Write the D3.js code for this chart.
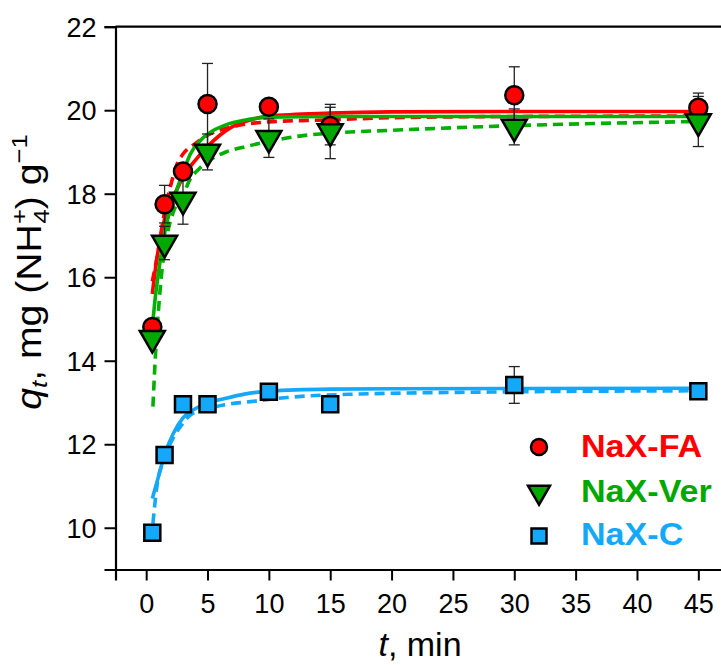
<!DOCTYPE html>
<html>
<head>
<meta charset="utf-8">
<script src="https://cdn.jsdelivr.net/npm/d3@7"></script>
<style>
  body { margin: 0; background: #fff; }
  text { font-family: "Liberation Sans", Arial, sans-serif; }
</style>
</head>
<body>
<div id="chart"></div>
<script>
var W = 721, H = 665;

// measured times (min)
var times = [0.5, 1.5, 3, 5, 10, 15, 30, 45];
// q_t values
var qFA  = [14.81, 17.75, 18.53, 20.15, 20.08, 19.62, 20.36, 20.06];
var qVer = [14.54, 16.82, 17.85, 19.0, 19.33, 19.49, 19.6, 19.73];
var qC   = [9.88, 11.74, 12.96, 12.96, 13.26, 12.96, 13.42, 13.27];
// error bars (half height, 0 = none visible)
var errFA  = [0, 0.45, 0, 0.97, 0, 0.45, 0.68, 0.35];
var errVer = [0, 0.4, 0.58, 0.43, 0.46, 0.65, 0.43, 0.6];
var errC   = [0, 0, 0, 0, 0, 0, 0.44, 0];

// fitted curves, [t, q]
var fitFAsolid = [[0.5,15.6],[0.8,16.3],[1.2,17.0],[1.6,17.5],[2.0,17.85],[2.5,18.1],[3.0,18.4],[4.0,18.8],[5.0,19.13],[6.0,19.4],[7.0,19.6],[8.0,19.72],[10,19.86],[15,19.93],[20,19.96],[30,19.97],[45,19.97]];
var fitFAdash  = [[0.5,15.9],[0.9,16.5],[1.4,17.4],[2.0,18.2],[2.5,18.7],[3.0,18.95],[4.0,19.2],[5,19.4],[7,19.6],[10,19.72],[15,19.77],[20,19.82],[30,19.85],[45,19.86]];
var fitVerSolid = [[0.5,14.8],[0.7,15.4],[1.0,16.1],[1.3,16.7],[1.6,17.2],[2.0,17.65],[2.5,18.1],[3.0,18.5],[3.6,18.95],[4.5,19.3],[5.5,19.52],[6.5,19.65],[8,19.76],[10,19.83],[15,19.85],[45,19.85]];
var fitVerDash  = [[0.55,12.9],[0.75,14.1],[1.0,15.2],[1.3,16.2],[1.7,17.0],[2.2,17.55],[3.0,17.95],[3.5,18.3],[4.4,18.62],[5.5,18.86],[6.5,19.0],[8,19.12],[10,19.25],[12.5,19.38],[15,19.45],[20,19.52],[30,19.63],[45,19.73]];
var fitCsolid = [[0.5,10.7],[1.0,11.22],[1.5,11.75],[2.2,12.25],[3,12.63],[4,12.85],[5,12.98],[6.5,13.1],[8,13.2],[10,13.27],[15,13.32],[20,13.33],[45,13.34]];
var fitCdash  = [[0.55,10.1],[0.9,11.05],[1.4,11.6],[2.2,12.15],[3.0,12.5],[3.6,12.7],[5,12.85],[6.3,12.94],[8.5,13.02],[11.5,13.12],[17,13.2],[28,13.25],[45,13.28]];

var xMajor = [0, 5, 10, 15, 20, 25, 30, 35, 40, 45];
var xMinor = [-2.5, 2.5, 7.5, 12.5, 17.5, 22.5, 27.5, 32.5, 37.5, 42.5, 47.5];
var yMajor = [10, 12, 14, 16, 18, 20, 22];
var yMinor = [9, 11, 13, 15, 17, 19, 21];

var cRed = "#ff0000", cGreen = "#00a800", cGreenLine = "#00b000", cBlue = "#14a8fa";

var x = d3.scaleLinear().domain([-2.5, 47.5]).range([115.5, 729]);
var y = d3.scaleLinear().domain([9, 22]).range([569.5, 26.7]);

var svg = d3.select("#chart").append("svg")
    .attr("width", W)
    .attr("height", H);

// axes
var xAx = svg.append("g").attr("transform", "translate(0," + y(9) + ")");
xAx.call(d3.axisBottom(x).tickValues(xMinor).tickSize(6).tickFormat(""));
xAx.call(d3.axisBottom(x).tickValues(xMajor).tickSize(11).tickFormat(d3.format("d")).tickPadding(8));
var yAx = svg.append("g").attr("transform", "translate(" + x(-2.5) + ",0)");
yAx.call(d3.axisLeft(y).tickValues(yMinor).tickSize(6).tickFormat(""));
yAx.call(d3.axisLeft(y).tickValues(yMajor).tickSize(11).tickFormat(d3.format("d")).tickPadding(8));
svg.selectAll(".domain").attr("stroke", "#000").attr("stroke-width", 2.2);
svg.selectAll(".tick line").attr("stroke", "#000").attr("stroke-width", 2);
svg.selectAll(".tick text").attr("fill", "#000").attr("font-size", "27px")
    .attr("font-family", "Liberation Sans, Arial, sans-serif");
xAx.selectAll(".tick text").attr("dy", "0.9em");
yAx.selectAll(".tick text").attr("dy", "0.36em");

// top frame
svg.append("line")
    .attr("x1", x(-2.5)).attr("x2", x(47.5))
    .attr("y1", y(22)).attr("y2", y(22))
    .attr("stroke", "#000").attr("stroke-width", 2.2);

// fitted curves
var line = d3.line()
    .x(function (d) { return x(d[0]); })
    .y(function (d) { return y(d[1]); })
    .curve(d3.curveMonotoneX);

var curves = [
    [fitFAsolid, cRed, null],
    [fitFAdash, cRed, "10,6"],
    [fitCsolid, cBlue, null],
    [fitCdash, cBlue, "10,6"],
    [fitVerSolid, cGreenLine, null],
    [fitVerDash, cGreenLine, "10,6"]
];
curves.forEach(function (c) {
    svg.append("path")
        .datum(c[0])
        .attr("d", line)
        .attr("fill", "none")
        .attr("stroke", c[1])
        .attr("stroke-width", 3.6)
        .attr("stroke-dasharray", c[2]);
});

// error bars
function errorBars(vals, errs) {
    var data = times.map(function (t, i) { return { t: t, q: vals[i], e: errs[i] }; })
        .filter(function (d) { return d.e > 0; });
    var g = svg.append("g").attr("stroke", "#222").attr("stroke-width", 1.3);
    g.selectAll(".v").data(data).enter().append("line")
        .attr("x1", function (d) { return x(d.t); })
        .attr("x2", function (d) { return x(d.t); })
        .attr("y1", function (d) { return y(d.q - d.e); })
        .attr("y2", function (d) { return y(d.q + d.e); });
    [1, -1].forEach(function (s) {
        g.selectAll(".c" + s).data(data).enter().append("line")
            .attr("x1", function (d) { return x(d.t) - 5.5; })
            .attr("x2", function (d) { return x(d.t) + 5.5; })
            .attr("y1", function (d) { return y(d.q + s * d.e); })
            .attr("y2", function (d) { return y(d.q + s * d.e); });
    });
}
errorBars(qFA, errFA);
errorBars(qVer, errVer);
errorBars(qC, errC);

// markers
var circleSym = d3.symbol().type(d3.symbolCircle).size(Math.PI * 9 * 9);
var triSym = d3.symbol().type(d3.symbolTriangle).size(Math.sqrt(3) / 4 * 25 * 25);
var sqSym = d3.symbol().type(d3.symbolSquare).size(16 * 16);

function markers(vals, sym, fill, rot) {
    svg.append("g").selectAll("path")
        .data(times)
        .enter()
        .append("path")
        .attr("d", sym)
        .attr("transform", function (t, i) {
            return "translate(" + x(t) + "," + y(vals[i]) + ")" + (rot ? " rotate(180)" : "");
        })
        .attr("fill", fill)
        .attr("stroke", "#000")
        .attr("stroke-width", 2.5);
}
markers(qFA, circleSym, cRed, false);
markers(qVer, triSym, cGreen, true);
markers(qC, sqSym, cBlue, false);

// legend
var legend = [
    ["NaX-FA", d3.symbol().type(d3.symbolCircle).size(Math.PI * 8 * 8), cRed, false, 447, 457],
    ["NaX-Ver", d3.symbol().type(d3.symbolTriangle).size(Math.sqrt(3) / 4 * 22 * 22), cGreen, true, 492, 502],
    ["NaX-C", d3.symbol().type(d3.symbolSquare).size(15 * 15), cBlue, false, 536, 545]
];
legend.forEach(function (l) {
    svg.append("path")
        .attr("d", l[1])
        .attr("transform", "translate(539," + l[4] + ")" + (l[3] ? " rotate(180)" : ""))
        .attr("fill", l[2])
        .attr("stroke", "#000")
        .attr("stroke-width", 2.5);
    svg.append("text")
        .attr("transform", "translate(581," + l[5] + ") scale(1.1,1)")
        .attr("font-size", "31px")
        .attr("font-weight", "bold")
        .attr("fill", l[2])
        .text(l[0]);
});

// axis titles
var xt = svg.append("text")
    .attr("x", 420).attr("y", 656)
    .attr("text-anchor", "middle")
    .attr("font-size", "34px");
xt.append("tspan").attr("font-style", "italic").text("t");
xt.append("tspan").text(", min");

var yt = svg.append("text")
    .attr("transform", "translate(41,272) rotate(-90) scale(1.12,1)")
    .attr("text-anchor", "middle")
    .attr("font-size", "35px");
yt.append("tspan").attr("font-style", "italic").text("q");
yt.append("tspan").attr("font-style", "italic").attr("font-size", "23px").attr("dy", "6").text("t");
yt.append("tspan").attr("dy", "-6").text(", mg (NH");
yt.append("tspan").attr("font-size", "23px").attr("dy", "-14").text("+");
yt.append("tspan").attr("font-size", "23px").attr("dx", "-13").attr("dy", "22").text("4");
yt.append("tspan").attr("dy", "-8").text(") g");
yt.append("tspan").attr("font-size", "23px").attr("dy", "-14").text("\u22121");
</script>
</body>
</html>
